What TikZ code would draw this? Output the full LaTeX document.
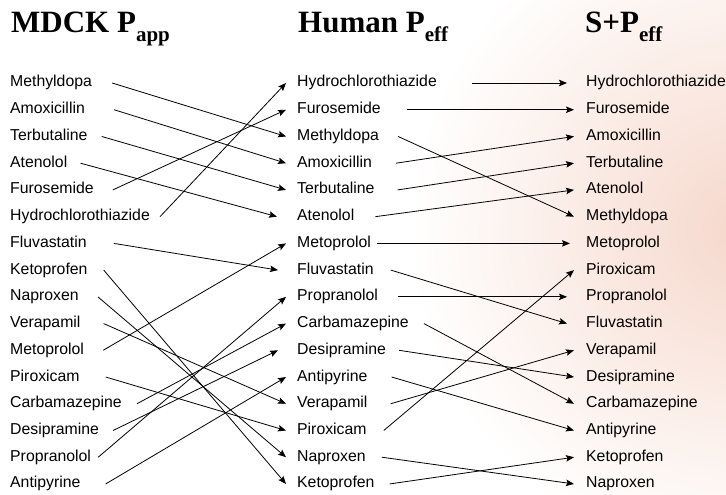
\documentclass[tikz,border=0pt]{standalone}
\usepackage{fontspec}
\setmainfont{Liberation Sans}
\newfontfamily\titlefont{Liberation Serif}
\usetikzlibrary{arrows.meta}
\definecolor{tintA}{RGB}{246,216,204}
\newcommand{\conn}[4]{\draw[arr] ([xshift=#3pt]#1.east) -- ([xshift=-#4pt]#2.west);}
\begin{document}
\begin{tikzpicture}[x=1pt,y=-1pt,
  lbl/.style={anchor=base west, inner sep=0pt, font=\fontsize{15.8}{18}\selectfont, text height=11.5pt, text depth=3.5pt},
  ttl/.style={anchor=base west, inner sep=0pt, font=\titlefont\bfseries\fontsize{31}{31}\selectfont},
  arr/.style={-{Stealth[length=8pt,width=6.5pt,inset=1.5pt]}, line width=0.8pt}]
\useasboundingbox (0,0) rectangle (726,495);
% faint background tint on the right
\begin{scope}
\clip (0,0) rectangle (726,495);
\shade[inner color=tintA, outer color=white] (740,230) circle (330);
\end{scope}
% titles
\node[ttl] (t1) at (11,33) {MDCK P\raisebox{-9pt}{\fontsize{21}{21}\selectfont app}};
\node[ttl] (t2) at (298,33) {Human P\raisebox{-9pt}{\fontsize{21}{21}\selectfont eff}};
\node[ttl] (t3) at (585,33) {S+P\raisebox{-9pt}{\fontsize{21}{21}\selectfont eff}};
% column 1
\node[lbl] (a1) at (10,87.00) {Methyldopa};
\node[lbl] (a2) at (10,113.73) {Amoxicillin};
\node[lbl] (a3) at (10,140.46) {Terbutaline};
\node[lbl] (a4) at (10,167.19) {Atenolol};
\node[lbl] (a5) at (10,193.92) {Furosemide};
\node[lbl] (a6) at (10,220.65) {Hydrochlorothiazide};
\node[lbl] (a7) at (10,247.38) {Fluvastatin};
\node[lbl] (a8) at (10,274.11) {Ketoprofen};
\node[lbl] (a9) at (10,300.84) {Naproxen};
\node[lbl] (a10) at (10,327.57) {Verapamil};
\node[lbl] (a11) at (10,354.30) {Metoprolol};
\node[lbl] (a12) at (10,381.03) {Piroxicam};
\node[lbl] (a13) at (10,407.76) {Carbamazepine};
\node[lbl] (a14) at (10,434.49) {Desipramine};
\node[lbl] (a15) at (10,461.22) {Propranolol};
\node[lbl] (a16) at (10,487.95) {Antipyrine};
% column 2
\node[lbl] (b1) at (297,87.00) {Hydrochlorothiazide};
\node[lbl] (b2) at (297,113.73) {Furosemide};
\node[lbl] (b3) at (297,140.46) {Methyldopa};
\node[lbl] (b4) at (297,167.19) {Amoxicillin};
\node[lbl] (b5) at (297,193.92) {Terbutaline};
\node[lbl] (b6) at (297,220.65) {Atenolol};
\node[lbl] (b7) at (297,247.38) {Metoprolol};
\node[lbl] (b8) at (297,274.11) {Fluvastatin};
\node[lbl] (b9) at (297,300.84) {Propranolol};
\node[lbl] (b10) at (297,327.57) {Carbamazepine};
\node[lbl] (b11) at (297,354.30) {Desipramine};
\node[lbl] (b12) at (297,381.03) {Antipyrine};
\node[lbl] (b13) at (297,407.76) {Verapamil};
\node[lbl] (b14) at (297,434.49) {Piroxicam};
\node[lbl] (b15) at (297,461.22) {Naproxen};
\node[lbl] (b16) at (297,487.95) {Ketoprofen};
% column 3
\node[lbl] (c1) at (586,87.00) {Hydrochlorothiazide};
\node[lbl] (c2) at (586,113.73) {Furosemide};
\node[lbl] (c3) at (586,140.46) {Amoxicillin};
\node[lbl] (c4) at (586,167.19) {Terbutaline};
\node[lbl] (c5) at (586,193.92) {Atenolol};
\node[lbl] (c6) at (586,220.65) {Methyldopa};
\node[lbl] (c7) at (586,247.38) {Metoprolol};
\node[lbl] (c8) at (586,274.11) {Piroxicam};
\node[lbl] (c9) at (586,300.84) {Propranolol};
\node[lbl] (c10) at (586,327.57) {Fluvastatin};
\node[lbl] (c11) at (586,354.30) {Verapamil};
\node[lbl] (c12) at (586,381.03) {Desipramine};
\node[lbl] (c13) at (586,407.76) {Carbamazepine};
\node[lbl] (c14) at (586,434.49) {Antipyrine};
\node[lbl] (c15) at (586,461.22) {Ketoprofen};
\node[lbl] (c16) at (586,487.95) {Naproxen};
% MDCK -> Human
\conn{a1}{b3}{20}{11}
\conn{a2}{b4}{29}{11}
\conn{a3}{b5}{14}{11}
\conn{a4}{b6}{13}{20}
\conn{a5}{b2}{19}{11}
\conn{a6}{b1}{10}{11}
\conn{a7}{b8}{27}{19}
\conn{a8}{b16}{16}{11}
\conn{a9}{b15}{19}{11}
\conn{a10}{b13}{23}{11}
\conn{a11}{b7}{19}{11}
\conn{a12}{b14}{26}{11}
\conn{a13}{b10}{15}{11}
\conn{a14}{b11}{14}{19}
\conn{a15}{b9}{7}{11}
\conn{a16}{b12}{25}{11}
% Human -> S+P
\conn{b1}{c1}{35}{19}
\conn{b2}{c2}{26}{12}
\conn{b3}{c6}{19}{12}
\conn{b4}{c3}{24}{12}
\conn{b5}{c4}{23}{12}
\conn{b6}{c5}{21}{12}
\conn{b7}{c7}{6}{16}
\conn{b8}{c10}{17}{19}
\conn{b9}{c9}{20}{19}
\conn{b10}{c13}{15}{12}
\conn{b11}{c12}{13}{12}
\conn{b12}{c14}{24}{12}
\conn{b13}{c11}{23}{12}
\conn{b14}{c8}{17}{12}
\conn{b15}{c16}{16}{12}
\conn{b16}{c15}{15}{12}
\end{tikzpicture}
\end{document}
